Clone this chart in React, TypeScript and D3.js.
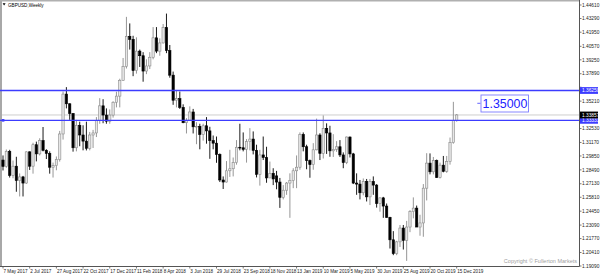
import React from 'react';
import * as d3 from 'd3';

// Weekly GBPUSD candles, week of 7 May 2017 .. week of 15 Dec 2019
const opens = [
  1.2945, 1.2883, 1.3030, 1.2795, 1.2885, 1.2745, 1.2780, 1.2720, 1.3025, 1.2885,
  1.3095, 1.3005, 1.3135, 1.3040, 1.3010, 1.2875, 1.2890, 1.2950, 1.3200, 1.3590,
  1.3495, 1.3400, 1.3065, 1.3285, 1.3190, 1.3130, 1.3060, 1.3190, 1.3210, 1.3330,
  1.3475, 1.3385, 1.3325, 1.3385, 1.3510, 1.3570, 1.3725, 1.3860, 1.4155, 1.4125,
  1.3820, 1.4010, 1.3965, 1.3815, 1.3865, 1.3950, 1.4140, 1.4010, 1.4090, 1.4240,
  1.4015, 1.3775, 1.3530, 1.3545, 1.3460, 1.3310, 1.3335, 1.3415, 1.3270, 1.3275,
  1.3195, 1.3280, 1.3230, 1.3135, 1.3110, 1.3000, 1.2750, 1.2730, 1.2840, 1.2860,
  1.2920, 1.3070, 1.3065, 1.3050, 1.3125, 1.3150, 1.3040, 1.2805, 1.2995, 1.2970,
  1.2770, 1.2815, 1.2790, 1.2730, 1.2580, 1.2650, 1.2720, 1.2745, 1.2840, 1.2875,
  1.3195, 1.3075, 1.2940, 1.2900, 1.3045, 1.3190, 1.3010, 1.3255, 1.3210, 1.3035,
  1.3050, 1.3075, 1.2995, 1.2920, 1.3170, 1.3005, 1.2720, 1.2710, 1.2625, 1.2735,
  1.2585, 1.2735, 1.2700, 1.2520, 1.2575, 1.2495, 1.2385, 1.2165, 1.2030, 1.2145,
  1.2280, 1.2160, 1.2290, 1.2440, 1.2475, 1.2290, 1.2330, 1.2670, 1.2915, 1.2830,
  1.2940, 1.2775, 1.2895, 1.2835, 1.2930, 1.3115, 1.3330,
];
const highs = [
  1.2990, 1.3048, 1.3045, 1.2940, 1.2977, 1.2814, 1.2790, 1.3030, 1.3030, 1.3114,
  1.3125, 1.3158, 1.3268, 1.3051, 1.3030, 1.2920, 1.2980, 1.3230, 1.3615, 1.3658,
  1.3500, 1.3405, 1.3338, 1.3320, 1.3285, 1.3320, 1.3220, 1.3240, 1.3365, 1.3550,
  1.3540, 1.3450, 1.3440, 1.3520, 1.3613, 1.3740, 1.3943, 1.4345, 1.4281, 1.4160,
  1.4145, 1.4025, 1.4000, 1.3930, 1.4000, 1.4245, 1.4245, 1.4135, 1.4275, 1.4377,
  1.4070, 1.3810, 1.3630, 1.3615, 1.3490, 1.3355, 1.3470, 1.3445, 1.3315, 1.3300,
  1.3300, 1.3365, 1.3270, 1.3185, 1.3175, 1.3010, 1.2785, 1.2935, 1.3045, 1.2970,
  1.3140, 1.3300, 1.3215, 1.3150, 1.3257, 1.3225, 1.3095, 1.3045, 1.3175, 1.3075,
  1.2930, 1.2865, 1.2839, 1.2770, 1.2700, 1.2730, 1.2815, 1.2865, 1.2990, 1.3215,
  1.3215, 1.3095, 1.2950, 1.3110, 1.3350, 1.3207, 1.3381, 1.3304, 1.3280, 1.3198,
  1.3130, 1.3140, 1.3020, 1.3175, 1.3175, 1.3015, 1.2815, 1.2750, 1.2765, 1.2760,
  1.2760, 1.2785, 1.2710, 1.2580, 1.2585, 1.2520, 1.2390, 1.2250, 1.2155, 1.2310,
  1.2310, 1.2350, 1.2455, 1.2580, 1.2500, 1.2410, 1.2710, 1.3012, 1.3010, 1.2975,
  1.2950, 1.2920, 1.2985, 1.2985, 1.3165, 1.3514, 1.3395,
];
const lows = [
  1.2843, 1.2870, 1.2774, 1.2767, 1.2635, 1.2589, 1.2589, 1.2712, 1.2848, 1.2812,
  1.2932, 1.2990, 1.3030, 1.2955, 1.2812, 1.2774, 1.2845, 1.2930, 1.3145, 1.3450,
  1.3338, 1.3027, 1.3030, 1.3080, 1.3040, 1.3039, 1.3040, 1.3063, 1.3170, 1.3300,
  1.3305, 1.3300, 1.3300, 1.3360, 1.3460, 1.3460, 1.3720, 1.3840, 1.4025, 1.3765,
  1.3790, 1.3855, 1.3711, 1.3785, 1.3835, 1.3930, 1.3990, 1.3965, 1.4085, 1.3990,
  1.3750, 1.3485, 1.3460, 1.3445, 1.3305, 1.3205, 1.3330, 1.3205, 1.3100, 1.3050,
  1.3135, 1.3105, 1.2957, 1.3050, 1.2918, 1.2730, 1.2662, 1.2725, 1.2780, 1.2785,
  1.2900, 1.3040, 1.3030, 1.2920, 1.3040, 1.3000, 1.2775, 1.2695, 1.2945, 1.2723,
  1.2770, 1.2700, 1.2659, 1.2477, 1.2560, 1.2605, 1.2380, 1.2670, 1.2670, 1.2850,
  1.3030, 1.2855, 1.2772, 1.2850, 1.3040, 1.2945, 1.2960, 1.3005, 1.2977, 1.2975,
  1.3025, 1.2975, 1.2865, 1.2905, 1.2970, 1.2710, 1.2605, 1.2560, 1.2600, 1.2540,
  1.2505, 1.2605, 1.2480, 1.2440, 1.2380, 1.2380, 1.2080, 1.2015, 1.2015, 1.2095,
  1.2070, 1.1959, 1.2240, 1.2375, 1.2290, 1.2205, 1.2195, 1.2550, 1.2805, 1.2805,
  1.2770, 1.2765, 1.2825, 1.2820, 1.2900, 1.3105, 1.3320,
];
const closes = [
  1.2883, 1.3030, 1.2795, 1.2885, 1.2745, 1.2780, 1.2720, 1.3025, 1.2885, 1.3095,
  1.3005, 1.3135, 1.3040, 1.3010, 1.2875, 1.2890, 1.2950, 1.3200, 1.3590, 1.3495,
  1.3400, 1.3065, 1.3285, 1.3190, 1.3130, 1.3060, 1.3190, 1.3210, 1.3330, 1.3475,
  1.3385, 1.3325, 1.3385, 1.3510, 1.3570, 1.3725, 1.3860, 1.4155, 1.4125, 1.3820,
  1.4010, 1.3965, 1.3815, 1.3865, 1.3950, 1.4140, 1.4010, 1.4090, 1.4240, 1.4015,
  1.3775, 1.3530, 1.3545, 1.3460, 1.3310, 1.3335, 1.3415, 1.3270, 1.3275, 1.3195,
  1.3280, 1.3230, 1.3135, 1.3110, 1.3000, 1.2750, 1.2730, 1.2840, 1.2860, 1.2920,
  1.3070, 1.3065, 1.3050, 1.3125, 1.3150, 1.3040, 1.2805, 1.2995, 1.2970, 1.2770,
  1.2815, 1.2760, 1.2730, 1.2580, 1.2650, 1.2720, 1.2745, 1.2840, 1.2875, 1.3195,
  1.3075, 1.2940, 1.2900, 1.3045, 1.3190, 1.3010, 1.3255, 1.3210, 1.3035, 1.3050,
  1.3075, 1.2995, 1.2920, 1.3170, 1.3005, 1.2720, 1.2710, 1.2625, 1.2735, 1.2585,
  1.2735, 1.2700, 1.2520, 1.2575, 1.2495, 1.2385, 1.2165, 1.2030, 1.2145, 1.2280,
  1.2160, 1.2290, 1.2440, 1.2475, 1.2290, 1.2330, 1.2670, 1.2915, 1.2830, 1.2940,
  1.2775, 1.2895, 1.2835, 1.2930, 1.3115, 1.3330, 1.3386,
];

const xTickLabels = [
  '7 May 2017', '2 Jul 2017', '27 Aug 2017', '22 Oct 2017', '17 Dec 2017', '11 Feb 2018',
  '8 Apr 2018', '3 Jun 2018', '29 Jul 2018', '23 Sep 2018', '18 Nov 2018', '13 Jan 2019',
  '10 Mar 2019', '5 May 2019', '30 Jun 2019', '25 Aug 2019', '20 Oct 2019', '15 Dec 2019',
];
const xTickStep = 8;
const yTickValues = [
  1.4461, 1.4329, 1.4195, 1.4057, 1.3925, 1.3789, 1.3657, 1.3521, 1.3253, 1.3117,
  1.2985, 1.2849, 1.2713, 1.2581, 1.2445, 1.2309, 1.2177, 1.2041, 1.1909,
];
const blueLevels = [1.3625, 1.33333];
const bidPrice = 1.33857;
const textLevel = 1.35;
const title = 'GBPUSD,Weekly';
const copyright = 'Copyright © Fullerton Markets';

const FONT = 'Liberation Sans, Arial, sans-serif';
const BLUE = '#3c3cff';

export default function App() {
  const n = closes.length;
  const x = d3.scaleLinear().domain([0, n - 1]).range([3, 456.7]);
  const y = d3.scaleLinear().domain([1.1909, 1.4461]).range([266, 5]);
  const plotRight = 579.5;
  const plotBottom = 266.5;
  const bw = 2.3;
  const fmt = d3.format('.5f');
  const labelLevels = [...blueLevels, bidPrice];
  // tick labels hidden behind a price label on the axis
  const visibleTicks = yTickValues.filter(
    (v) => labelLevels.every((p) => Math.abs(y(v) - y(p)) > 6.5)
  );

  return (
    <svg
      width={600}
      height={274}
      style={{ position: 'absolute', left: 0, top: 0, background: '#fff' }}
      fontFamily={FONT}
    >
      <rect x={0} y={0} width={600} height={274} fill="#fff" />
      {/* frame */}
      <line x1={1} x2={1} y1={0} y2={plotBottom} stroke="#a8a8a8" strokeWidth={2} />
      <line x1={0} x2={plotRight} y1={0.75} y2={0.75} stroke="#b0b0b0" strokeWidth={1.5} />

      {/* bid line */}
      <line x1={2} x2={plotRight} y1={y(bidPrice)} y2={y(bidPrice)} stroke="#cfcfcf" strokeWidth={1} />

      {/* candles */}
      {closes.map((c, i) => {
        const o = opens[i];
        const bull = c >= o;
        const cx = x(i);
        const top = y(Math.max(o, c));
        const bot = y(Math.min(o, c));
        return (
          <g key={i}>
            <line
              x1={cx}
              x2={cx}
              y1={y(highs[i])}
              y2={y(lows[i])}
              stroke={bull ? '#8a8a8a' : '#000'}
              strokeWidth={0.9}
            />
            <rect
              x={cx - bw / 2}
              y={top}
              width={bw}
              height={Math.max(bot - top, 0.8)}
              fill={bull ? '#e6e6e6' : '#000'}
              stroke={bull ? '#8a8a8a' : '#000'}
              strokeWidth={0.6}
            />
          </g>
        );
      })}

      {/* blue horizontal lines */}
      {blueLevels.map((v, k) => (
        <line key={k} x1={0} x2={plotRight} y1={y(v)} y2={y(v)} stroke={BLUE} strokeWidth={1.4} />
      ))}
      <rect x={1.8} y={y(blueLevels[1]) - 1.3} width={2.6} height={2.6} fill={BLUE} />

      {/* axes */}
      <line x1={plotRight} x2={plotRight} y1={0} y2={plotBottom} stroke="#555" strokeWidth={1} />
      <line x1={0} x2={plotRight} y1={plotBottom} y2={plotBottom} stroke="#555" strokeWidth={1} />

      {yTickValues.map((v, k) => (
        <line key={k} x1={plotRight} x2={plotRight + 2} y1={y(v)} y2={y(v)} stroke="#555" strokeWidth={0.8} />
      ))}
      {visibleTicks.map((v, k) => (
        <text key={k} x={582} y={y(v) + 1.7} fontSize={4.8} fill="#222">
          {fmt(v)}
        </text>
      ))}

      {xTickLabels.map((t, k) => {
        const xi = x(k * xTickStep);
        return (
          <g key={k}>
            <line x1={xi} x2={xi} y1={plotBottom} y2={plotBottom + 2} stroke="#555" strokeWidth={0.8} />
            <text x={xi + 0.5} y={272.8} fontSize={4.6} fill="#222">
              {t}
            </text>
          </g>
        );
      })}

      {/* price labels on axis */}
      {blueLevels.map((v, k) => (
        <g key={k}>
          <rect x={580} y={y(v) - 3.4} width={18} height={6.8} fill={BLUE} />
          <text x={582} y={y(v) + 1.7} fontSize={4.8} fill="#fff">
            {fmt(v)}
          </text>
        </g>
      ))}
      <rect x={580} y={y(bidPrice) - 3.4} width={18} height={6.8} fill="#000" />
      <text x={582} y={y(bidPrice) + 1.7} fontSize={4.8} fill="#fff">
        {fmt(bidPrice)}
      </text>

      {/* text object */}
      <line x1={477.3} x2={480.5} y1={y(textLevel)} y2={y(textLevel)} stroke={BLUE} strokeWidth={0.8} />
      <rect x={481} y={95} width={47.5} height={17} fill="none" stroke="#7a7aff" strokeWidth={0.9} />
      <text x={482.6} y={108.4} fontSize={12.4} fill="#2020ff">
        {fmt(textLevel)}
      </text>

      {/* title */}
      <path d="M2.6,3.3 L5.6,3.3 L4.1,5.5 Z" fill="#000" />
      <text x={8} y={6.9} fontSize={4.6} fill="#000">
        {title}
      </text>

      {/* copyright */}
      <text x={577} y={263} fontSize={5.5} fill="#a0a0a0" textAnchor="end">
        {copyright}
      </text>
    </svg>
  );
}
